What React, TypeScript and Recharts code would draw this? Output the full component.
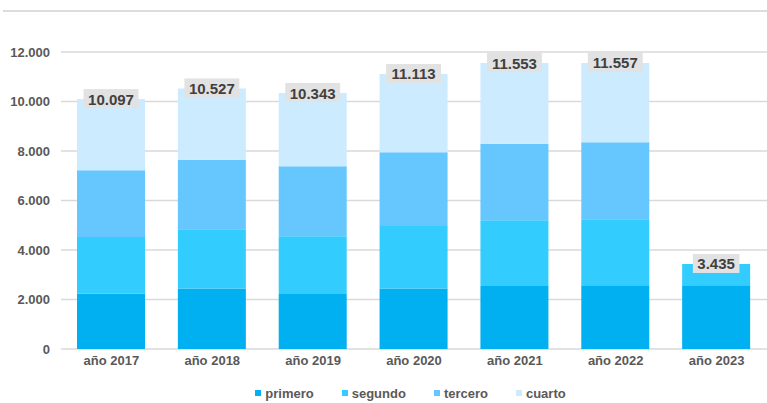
import { BarChart, Bar, XAxis, YAxis, CartesianGrid, Legend, LabelList } from "recharts";

const years = ["año 2017", "año 2018", "año 2019", "año 2020", "año 2021", "año 2022", "año 2023"];
const primero = [2230, 2440, 2220, 2440, 2550, 2580, 2580];
const segundo = [2300, 2400, 2340, 2530, 2650, 2660, 855];
const tercero = [2690, 2810, 2820, 2980, 3090, 3110, 0];
const cuarto = [2877, 2877, 2963, 3163, 3263, 3207, 0];
const totals = [10097, 10527, 10343, 11113, 11553, 11557, 3435];
const yTicks = [0, 2000, 4000, 6000, 8000, 10000, 12000];

const series = [
  { key: "primero", color: "#00B0F0" },
  { key: "segundo", color: "#33CCFF" },
  { key: "tercero", color: "#66C7FF" },
  { key: "cuarto", color: "#CCEBFF" },
];

const data = years.map((year, i) => ({
  year,
  primero: primero[i],
  segundo: segundo[i],
  tercero: tercero[i],
  cuarto: cuarto[i],
  total: totals[i],
}));

// which series is the top (non-zero) segment of each bar
const topKey = data.map((d: any) => {
  let k = series[0].key;
  series.forEach((s) => {
    if (d[s.key] > 0) k = s.key;
  });
  return k;
});

const fmt = (v: number) => String(Math.round(v)).replace(/\B(?=(\d{3})+(?!\d))/g, ".");

const FONT = "'Liberation Sans', Arial, sans-serif";

const makeLabel = (key: string) => (props: any) => {
  if (topKey[props.index] !== key) return null;
  const vb = props.viewBox || props;
  const x = vb.x ?? props.x;
  const y = vb.y ?? props.y;
  const w = vb.width ?? props.width;
  const text = fmt(Number(props.value));
  const tw = text.replace(/\./g, "").length * 8.35 + (text.split(".").length - 1) * 4.2;
  const bw = tw + 9;
  const cx = x + w / 2;
  return (
    <g>
      <rect x={cx - bw / 2} y={y - 10} width={bw} height={19} fill="#E2E2E2" />
      <text
        x={cx}
        y={y}
        textAnchor="middle"
        dominantBaseline="central"
        fontFamily={FONT}
        fontSize={15}
        fontWeight="bold"
        fill="#404040"
      >
        {text}
      </text>
    </g>
  );
};

function LegendBox() {
  return (
    <div
      style={{
        display: "flex",
        justifyContent: "center",
        paddingLeft: 54,
        height: 20,
        alignItems: "center",
        fontFamily: FONT,
        fontSize: 13,
        fontWeight: "bold",
        color: "#595959",
      }}
    >
      {series.map((s, i) => (
        <div key={s.key} style={{ display: "flex", alignItems: "center", marginLeft: i ? 28 : 0 }}>
          <span style={{ width: 6, height: 6, background: s.color, marginRight: 4, display: "inline-block" }} />
          <span>{s.key}</span>
        </div>
      ))}
    </div>
  );
}

export default function App() {
  return (
    <div style={{ position: "absolute", left: 0, top: 0, width: 767, height: 403, background: "#fff", overflow: "hidden" }}>
      <div style={{ position: "absolute", left: 3, top: 10, width: 764, height: 2, background: "#DCDCDC" }} />
      <BarChart
        width={767}
        height={403}
        data={data}
        margin={{ top: 52, right: 0, left: 0, bottom: 0 }}
        barSize={68}
      >
        <CartesianGrid vertical={false} stroke="#D9D9D9" strokeWidth={1.5} />
        <XAxis
          dataKey="year"
          axisLine={false}
          tickLine={false}
          tickSize={0}
          tickMargin={7}
          height={34}
          tick={{ fontFamily: FONT, fontSize: 13, fontWeight: "bold", fill: "#595959" }}
        />
        <YAxis
          width={61}
          domain={[0, 12000]}
          ticks={yTicks}
          axisLine={false}
          tickLine={false}
          tickSize={0}
          tickMargin={11}
          tickFormatter={fmt}
          tick={{ fontFamily: FONT, fontSize: 13, fontWeight: "bold", fill: "#595959" }}
        />
        <Legend verticalAlign="bottom" height={20} content={() => <LegendBox />} />
        {series.map((s) => (
          <Bar key={s.key} dataKey={s.key} stackId="a" fill={s.color} isAnimationActive={false}>
            <LabelList dataKey="total" content={makeLabel(s.key)} />
          </Bar>
        ))}
      </BarChart>
    </div>
  );
}
